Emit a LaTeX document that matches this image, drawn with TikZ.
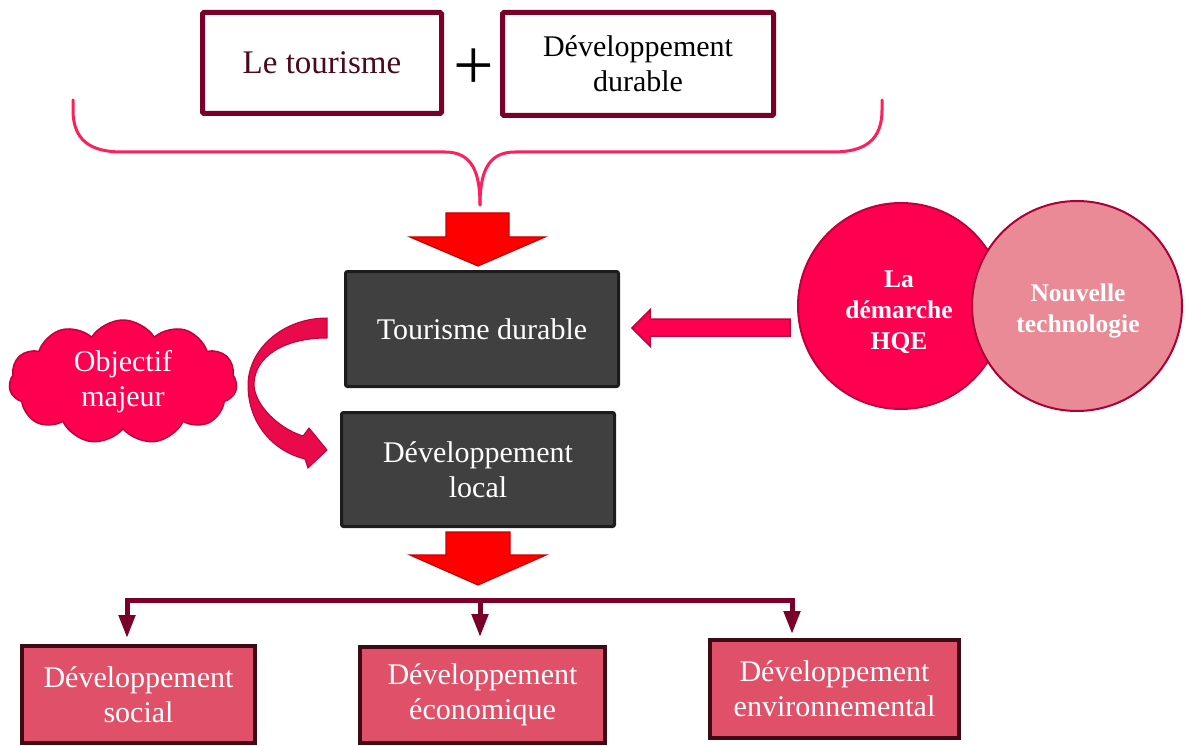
\documentclass[tikz,border=0pt]{standalone}
\usepackage{fontspec}
\setmainfont{Liberation Serif}
\usetikzlibrary{shapes.symbols,shapes.geometric,arrows.meta,calc}
\definecolor{maroon}{HTML}{7B0029}
\definecolor{darkmaroon}{HTML}{4A0A1A}
\definecolor{bracepink}{HTML}{FF1F5A}
\definecolor{arrowred}{HTML}{FF0000}
\definecolor{arrowredb}{HTML}{C40000}
\definecolor{darkbox}{HTML}{404040}
\definecolor{darkboxb}{HTML}{1C1C1C}
\definecolor{hot}{HTML}{FF0050}
\definecolor{hotb}{HTML}{C0003C}
\definecolor{softpink}{HTML}{E98A96}
\definecolor{bottomfill}{HTML}{E05068}
\definecolor{bottomb}{HTML}{3E0A14}
\definecolor{curvefill}{HTML}{E80A4A}
\tikzset{
  txt/.style={font=\fontsize{30}{35}\selectfont, align=center},
  topbox/.style={txt, draw=maroon, line width=5pt, fill=white, rounded corners=1.5pt},
  darkbx/.style={txt, draw=darkboxb, line width=3pt, fill=darkbox, text=white, rounded corners=2pt},
  botbox/.style={txt, draw=bottomb, line width=4pt, fill=bottomfill, text=white},
  circ/.style={circle, draw=hotb, line width=2pt, text=white, align=center, inner sep=0pt,
    font=\bfseries\fontsize{25.5}{31}\selectfont},
  blockarrow/.style={fill=arrowred, draw=arrowredb, line width=1.2pt, line join=miter},
  tree/.style={draw=maroon, line width=5pt},
  treearrow/.style={draw=maroon, line width=5pt, -{Triangle[width=16pt,length=23pt]}}
}
\begin{document}
\begin{tikzpicture}[x=1pt,y=-1pt]
\useasboundingbox (0,0) rectangle (1186,746);

% top boxes
\node[topbox, minimum width=239, minimum height=101, text=darkmaroon, font=\fontsize{33}{38}\selectfont] (t1) at (322,63) {Le tourisme};
\node[font=\fontsize{72}{72}\selectfont, inner sep=0pt] (plus) at (474,69) {+};
\node[topbox, minimum width=271, minimum height=103, text=black] (t2) at (638,64) {Développement\\durable};

% brace
\coordinate (bl) at (73,100);
\coordinate (br) at (882,100);
\coordinate (bc) at (480,205);
\draw[bracepink, line width=3pt, line cap=round]
  (bl) -- (73,110) .. controls (73,140) and (90,152) .. (122,152) -- (445,152)
  .. controls (472,152) and (480,172) .. (bc);
\draw[bracepink, line width=3pt, line cap=round]
  (br) -- (882,110) .. controls (882,140) and (865,152) .. (833,152) -- (515,152)
  .. controls (488,152) and (480,172) .. (bc);

% dark boxes
\node[darkbx, minimum width=273, minimum height=115] (ts) at (482,329) {Tourisme durable};
\node[darkbx, minimum width=273, minimum height=114] (dl) at (478,469.5) {Développement\\local};

% red block arrows
\draw[blockarrow] (446,213) -- (509,213) -- (509,237) -- (545,237) -- (478,266) -- (410,237) -- (446,237) -- cycle;
\draw[blockarrow] (446,532) -- (510,532) -- (510,555) -- (546,555) -- (478,585) -- (410,555) -- (446,555) -- cycle;

% circles
\node[circ, fill=hot, minimum size=206] (hqe) at (901,306) {};
\node[circ, fill=softpink, draw=hotb!90!black, minimum size=210] (nt) at (1077,306) {};
\node[circ, draw=none, text=white] (hqet) at (899,312) {La\\démarche\\HQE};
\node[circ, draw=none, text=white] (ntt) at (1078,311) {Nouvelle\\technologie};

% arrow from circle to tourisme durable
\draw[fill=hot, draw=hotb, line width=1.5pt, line join=miter]
  (790,319) -- (650,319) -- (650,310) -- (632,328) -- (650,346) -- (650,336) -- (790,336) -- cycle;

% cloud
\node[cloud, cloud puffs=11, cloud puff arc=115, aspect=1.8, fill=hot, draw=hotb, line width=1.5pt,
  text=white, txt, inner sep=0pt, minimum width=228, minimum height=124] (obj) at (123,382) {Objectif\\majeur};

% curved arrow
\draw[fill=curvefill, draw=hotb, line width=1pt, line join=miter]
  (327,318) .. controls (282,318) and (248,350) .. (248,385)
  .. controls (248,425) and (275,452) .. (305,459)
  -- (308,468) -- (327,450) -- (309,428) -- (303,436)
  .. controls (278,428) and (255,405) .. (254,385)
  .. controls (254,356) and (285,338) .. (327,338) -- cycle;

% bottom boxes
\node[botbox, minimum width=233, minimum height=97] (b1) at (138.5,694.5) {Développement\\social};
\node[botbox, minimum width=245, minimum height=96] (b2) at (482.5,695) {Développement\\économique};
\node[botbox, minimum width=249, minimum height=98] (b3) at (834.5,689) {Développement\\environnemental};

% tree connector
\coordinate (j1) at (127,600);
\coordinate (j2) at (480,600);
\coordinate (j3) at (792,600);
\draw[tree, line cap=rect] (j1) -- (j3);
\draw[treearrow] (j1) -- ($(j1)+(0,38)$);
\draw[treearrow] (j2) -- ($(j2)+(0,37)$);
\draw[treearrow] (j3) -- ($(j3)+(0,34)$);
\end{tikzpicture}
\end{document}
